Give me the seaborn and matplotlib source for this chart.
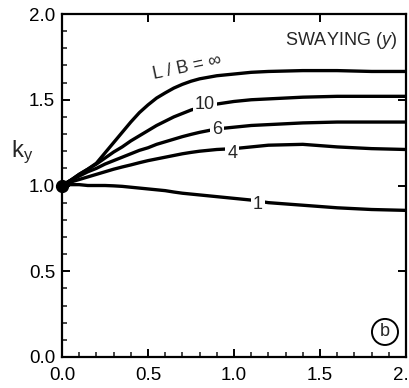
import matplotlib
matplotlib.use("Agg")
import matplotlib.pyplot as plt
from matplotlib.ticker import MultipleLocator
import pandas as pd
import seaborn as sns

# values
x_vals = [0.0, 0.05, 0.1, 0.15, 0.2, 0.25, 0.3, 0.35, 0.4, 0.45, 0.5, 0.55, 0.6,
          0.65, 0.7, 0.75, 0.8, 0.9, 1.0, 1.1, 1.2, 1.4, 1.6, 1.8, 2.0]
ky_inf = [1.0, 1.03, 1.065, 1.095, 1.13, 1.19, 1.25, 1.31, 1.37, 1.425, 1.47, 1.51, 1.54,
          1.568, 1.59, 1.608, 1.622, 1.64, 1.65, 1.66, 1.665, 1.67, 1.67, 1.665, 1.665]
ky_10 = [1.0, 1.03, 1.065, 1.095, 1.125, 1.16, 1.195, 1.225, 1.26, 1.29, 1.32, 1.35, 1.375,
         1.40, 1.42, 1.44, 1.455, 1.475, 1.49, 1.50, 1.505, 1.515, 1.52, 1.52, 1.52]
ky_6 = [1.0, 1.03, 1.055, 1.08, 1.10, 1.125, 1.145, 1.165, 1.185, 1.205, 1.22, 1.24, 1.255,
        1.27, 1.285, 1.298, 1.31, 1.33, 1.34, 1.35, 1.355, 1.365, 1.37, 1.37, 1.37]
ky_4 = [1.0, 1.02, 1.035, 1.05, 1.065, 1.08, 1.095, 1.108, 1.12, 1.133, 1.145, 1.155, 1.165,
        1.175, 1.185, 1.193, 1.20, 1.21, 1.215, 1.225, 1.235, 1.24, 1.225, 1.215, 1.21]
ky_1 = [1.0, 1.005, 1.005, 1.0, 1.0, 1.0, 0.998, 0.995, 0.99, 0.985, 0.98, 0.975, 0.97,
        0.962, 0.955, 0.95, 0.945, 0.935, 0.925, 0.915, 0.90, 0.885, 0.87, 0.86, 0.855]

curve_names = ["inf", "10", "6", "4", "1"]
curve_values = [ky_inf, ky_10, ky_6, ky_4, ky_1]

# label text, x, y, rotation
label_texts = ["L / B = \u221e", "10", "6", "4", "1"]
label_x = [0.725, 0.83, 0.90, 0.99, 1.14]
label_y = [1.69, 1.47, 1.325, 1.185, 0.89]
label_rot = [12, 0, 0, 0, 0]

sns.set_theme(style="ticks")
plt.rcParams["font.family"] = ["Liberation Sans", "DejaVu Sans"]
plt.rcParams["mathtext.fontset"] = "custom"
plt.rcParams["mathtext.rm"] = "Liberation Sans"
plt.rcParams["mathtext.it"] = "Liberation Sans:italic"

df = pd.concat(
    [pd.DataFrame({"x": x_vals, "ky": vals, "LB": name})
     for name, vals in zip(curve_names, curve_values)],
    ignore_index=True,
)

fig = plt.figure(figsize=(4.09, 3.88), dpi=100)
ax = fig.add_axes([0.1516, 0.0799, 0.841, 0.884])

sns.lineplot(data=df, x="x", y="ky", hue="LB", palette={n: "black" for n in curve_names},
             estimator=None, sort=False, linewidth=2.4, legend=False, ax=ax)
ax.plot([0.0], [1.0], "o", color="black", markersize=8.5, clip_on=False, zorder=5)

for txt, lx, ly, rot in zip(label_texts, label_x, label_y, label_rot):
    ax.text(lx, ly, txt, fontsize=13, ha="center", va="center", rotation=rot,
            bbox=dict(boxstyle="square,pad=0.1", fc="white", ec="none"), zorder=4)

ax.text(0.974, 0.924, "SWAYING ($y$)", transform=ax.transAxes, fontsize=13,
        ha="right", va="center")
ax.text(0.939, 0.073, "b", transform=ax.transAxes, fontsize=13, ha="center", va="center",
        bbox=dict(boxstyle="circle,pad=0.25", fc="white", ec="black", lw=1.4))
ax.text(-0.116, 0.598, r"k$_{\mathrm{y}}$", transform=ax.transAxes, fontsize=17,
        ha="center", va="center")

ax.set_xlim(0, 2.0)
ax.set_ylim(0, 2.0)
ax.set_xlabel("")
ax.set_ylabel("")
ax.xaxis.set_major_locator(MultipleLocator(0.5))
ax.xaxis.set_minor_locator(MultipleLocator(0.1))
ax.yaxis.set_major_locator(MultipleLocator(0.5))
ax.yaxis.set_minor_locator(MultipleLocator(0.1))
ax.xaxis.set_major_formatter(lambda v, p: f"{v:.1f}")
ax.yaxis.set_major_formatter(lambda v, p: f"{v:.1f}")

ax.tick_params(which="major", direction="in", length=6, width=1.4, labelsize=13.5,
               top=True, right=True, colors="black")
ax.tick_params(which="minor", direction="in", length=3.5, width=1.2,
               top=False, right=False, bottom=True, left=True)
ax.tick_params(axis="x", which="major", pad=7)
ax.tick_params(axis="y", which="major", pad=5)
for s in ax.spines.values():
    s.set_linewidth(1.6)
    s.set_color("black")
    s.set_visible(True)

fig.savefig("out.png", dpi=100)
